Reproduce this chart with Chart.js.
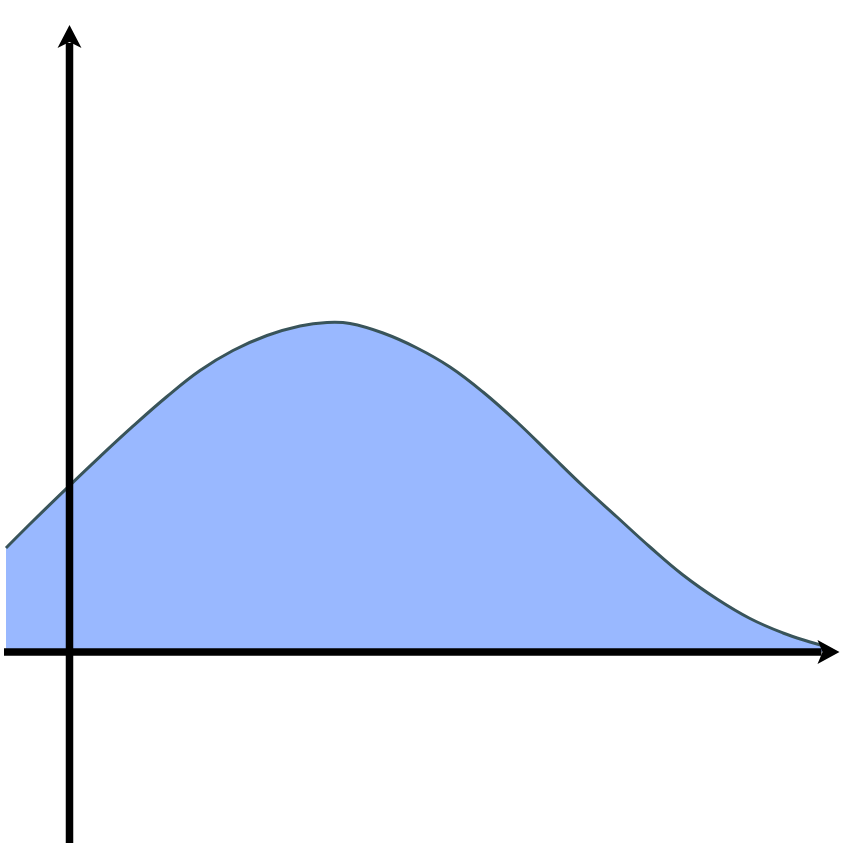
<!DOCTYPE html>
<html>
<head>
<meta charset="utf-8">
<script src="https://cdn.jsdelivr.net/npm/chart.js@4"></script>
<style>
  html, body { margin: 0; padding: 0; background: #fff; }
  canvas { display: block; }
</style>
</head>
<body>
<canvas id="chart" width="865" height="849"></canvas>
<script>
// curve (origin = where the two axes cross)
const xValues = [-0.635, -0.365, 0.0, 0.305, 0.635, 0.975, 1.305, 1.635, 1.975, 2.305, 2.575, 2.805, 3.135, 3.475, 3.805, 4.135, 4.475, 4.805, 5.135, 5.475, 5.805, 6.135, 6.475, 6.805, 7.135, 7.405, 7.53];
const yValues = [1.04, 1.31, 1.664, 1.954, 2.258, 2.555, 2.815, 3.015, 3.165, 3.26, 3.295, 3.285, 3.19, 3.04, 2.85, 2.60, 2.30, 1.98, 1.66, 1.35, 1.05, 0.77, 0.53, 0.335, 0.19, 0.10, 0.065];

const points = xValues.map((x, i) => ({ x: x, y: yValues[i] }));

// black axes with arrow heads, placed through the chart's scales
const axesPlugin = {
    id: 'arrowAxes',
    afterDatasetsDraw(chart, args, opts) {
        const ctx = chart.ctx;
        const xs = chart.scales.x;
        const ys = chart.scales.y;
        const ox = xs.getPixelForValue(0);
        const oy = ys.getPixelForValue(0);
        const xStart = xs.getPixelForValue(opts.xFrom);
        const xTip = xs.getPixelForValue(opts.xTo);
        const yStart = ys.getPixelForValue(opts.yFrom);
        const yTip = ys.getPixelForValue(opts.yTo);

        ctx.save();
        ctx.strokeStyle = '#000';
        ctx.fillStyle = '#000';
        ctx.lineWidth = 7.5;
        ctx.lineCap = 'butt';

        // x axis
        ctx.beginPath();
        ctx.moveTo(xStart, oy);
        ctx.lineTo(xTip - 18, oy);
        ctx.stroke();
        ctx.beginPath();
        ctx.moveTo(xTip, oy);
        ctx.lineTo(xTip - 22, oy - 12);
        ctx.lineTo(xTip - 17, oy);
        ctx.lineTo(xTip - 22, oy + 12);
        ctx.closePath();
        ctx.fill();

        // y axis
        ctx.beginPath();
        ctx.moveTo(ox, yStart);
        ctx.lineTo(ox, yTip + 18);
        ctx.stroke();
        ctx.beginPath();
        ctx.moveTo(ox, yTip);
        ctx.lineTo(ox - 12, yTip + 23);
        ctx.lineTo(ox, yTip + 17);
        ctx.lineTo(ox + 12, yTip + 23);
        ctx.closePath();
        ctx.fill();
        ctx.restore();
    }
};

new Chart(document.getElementById('chart').getContext('2d'), {
    type: 'line',
    data: {
        datasets: [{
            data: points,
            borderColor: '#39545a',
            borderWidth: 3,
            backgroundColor: '#99b8ff',
            fill: 'origin',
            pointRadius: 0,
            tension: 0.4
        }]
    },
    options: {
        responsive: false,
        animation: false,
        devicePixelRatio: 1,
        layout: { padding: 0 },
        plugins: {
            legend: { display: false },
            tooltip: { enabled: false },
            arrowAxes: { xFrom: -0.655, xTo: 7.70, yFrom: -1.91, yTo: 6.27 }
        },
        scales: {
            x: { type: 'linear', min: -0.695, max: 7.955, display: false },
            y: { type: 'linear', min: -1.97, max: 6.52, display: false }
        }
    },
    plugins: [axesPlugin]
});
</script>
</body>
</html>
